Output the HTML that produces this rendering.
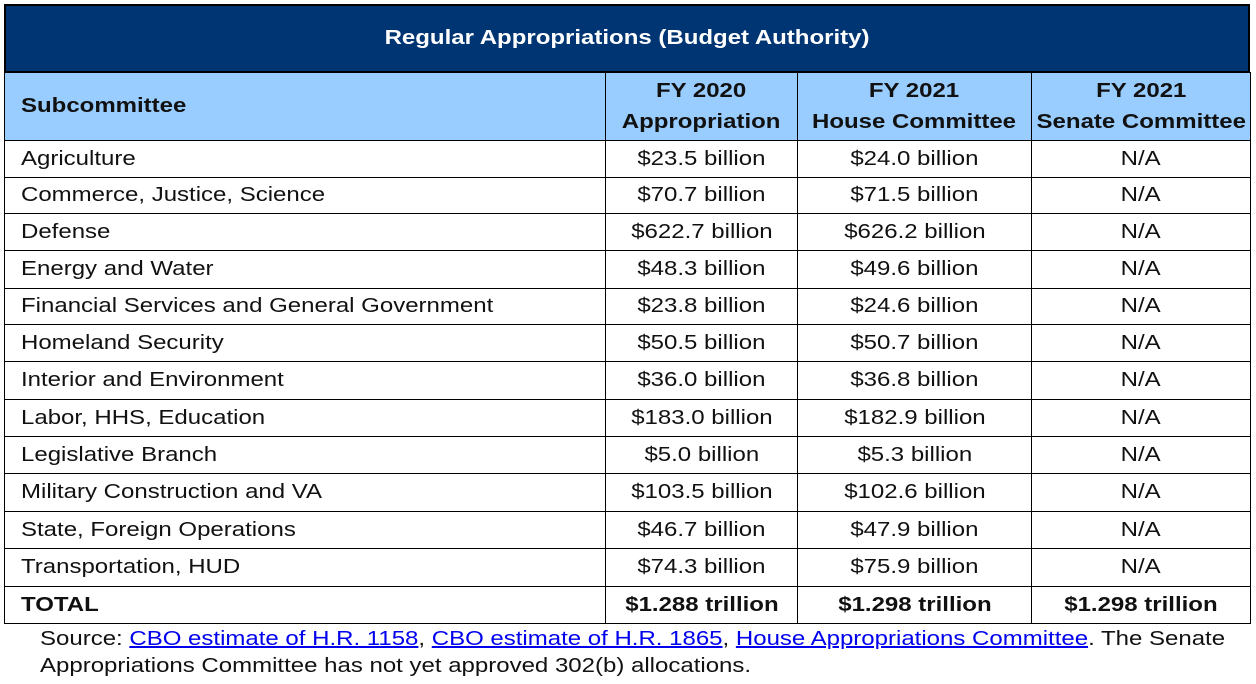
<!DOCTYPE html>
<html><head><style>
body{margin:0;width:1256px;height:684px;background:#fff;font-family:"Liberation Sans",Arial,sans-serif;position:relative;overflow:hidden}
.c{position:absolute;box-sizing:border-box;border:1px solid #000;display:flex;align-items:center;font-size:20px;color:#111}
.l{padding-left:16px}
.m{justify-content:center;text-align:center}
.b{font-weight:bold}
.s{display:inline-block;transform:scaleX(1.2);white-space:nowrap}
.l .s{transform-origin:left center}
.src{position:absolute;left:40px;top:626px;font-size:20px;line-height:27px;color:#111;transform:scaleX(1.2);transform-origin:left top;white-space:nowrap}
a{color:#0000ee;text-decoration:underline}
</style></head><body>
<div class="c m b" style="left:4px;top:4px;width:1246px;height:69px;background:#003573;color:#fff;border-width:2px"><span class="s">Regular Appropriations (Budget Authority)</span></div>
<div id="t"></div>
<div class="src">Source: <a>CBO estimate of H.R. 1158</a>, <a>CBO estimate of H.R. 1865</a>, <a>House Appropriations Committee</a>. The Senate<br>Appropriations Committee has not yet approved 302(b) allocations.</div>
<script>
var cols=[4,605,797,1031,1250];
var ys=[72,140,177,213,250,288,324,361,399,436,473,511,548,586,623];
var rows=[
["Subcommittee","FY 2020<br>Appropriation","FY 2021<br>House Committee","FY 2021<br>Senate Committee"],
["Agriculture","$23.5 billion","$24.0 billion","N/A"],
["Commerce, Justice, Science","$70.7 billion","$71.5 billion","N/A"],
["Defense","$622.7 billion","$626.2 billion","N/A"],
["Energy and Water","$48.3 billion","$49.6 billion","N/A"],
["Financial Services and General Government","$23.8 billion","$24.6 billion","N/A"],
["Homeland Security","$50.5 billion","$50.7 billion","N/A"],
["Interior and Environment","$36.0 billion","$36.8 billion","N/A"],
["Labor, HHS, Education","$183.0 billion","$182.9 billion","N/A"],
["Legislative Branch","$5.0 billion","$5.3 billion","N/A"],
["Military Construction and VA","$103.5 billion","$102.6 billion","N/A"],
["State, Foreign Operations","$46.7 billion","$47.9 billion","N/A"],
["Transportation, HUD","$74.3 billion","$75.9 billion","N/A"],
["TOTAL","$1.288 trillion","$1.298 trillion","$1.298 trillion"]];
var h="";
rows.forEach(function(r,i){
 r.forEach(function(t,j){
  var cls="c "+(j==0?"l":"m")+((i==0||i==13)?" b":"");
  var st="left:"+cols[j]+"px;top:"+ys[i]+"px;width:"+(cols[j+1]-cols[j]+1)+"px;height:"+(ys[i+1]-ys[i]+1)+"px;";
  if(i==0)st+="background:#99ccff;line-height:31px;";
  h+='<div class="'+cls+'" style="'+st+'"><span class="s">'+t+'</span></div>';
 });
});
document.getElementById("t").innerHTML=h;
</script>
</body></html>
